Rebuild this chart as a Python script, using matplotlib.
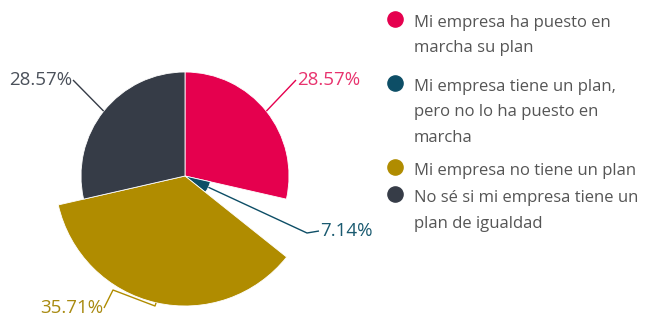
import numpy as np
import matplotlib
matplotlib.use("Agg")
import matplotlib.pyplot as plt

categories = [
    "Mi empresa ha puesto en\nmarcha su plan",
    "Mi empresa tiene un plan,\npero no lo ha puesto en\nmarcha",
    "Mi empresa no tiene un plan",
    "No sé si mi empresa tiene un\nplan de igualdad",
]
values = [28.57, 7.14, 35.71, 28.57]
labels = ["28.57%", "7.14%", "35.71%", "28.57%"]
colors = ["#E5004E", "#0D4E66", "#B08C00", "#363C47"]
text_colors = ["#E8336E", "#1A5A70", "#A88A10", "#4A505A"]

plt.rcParams['font.family'] = ['Open Sans', 'DejaVu Sans']

W, H = 645, 318
fig = plt.figure(figsize=(W / 100, H / 100), dpi=100)
ax = fig.add_axes([0, 0, 1, 1])

cx, cy = 185, H - 176
Rmax = 130
wedges, _ = ax.pie(values, colors=colors, startangle=90, counterclock=False,
                   center=(cx, cy), radius=Rmax,
                   wedgeprops=dict(linewidth=0.6, edgecolor="white"))
vmax = max(values)
radii = []
for w, v in zip(wedges, values):
    r = Rmax * v / vmax
    w.set_radius(r)
    radii.append(r)

ax.set_xlim(0, W)
ax.set_ylim(0, H)
ax.set_aspect('auto')
ax.axis('off')

# label leader lines
label_specs = [
    ((297, H - 80), [], 'left'),
    ((320, H - 231), [(307, H - 233)], 'left'),
    ((103, H - 308), [(155, H - 306), (113, H - 290)], 'right'),
    ((72, H - 80), [], 'right'),
]
for w, r, lab, tc, col, spec in zip(wedges, radii, labels, text_colors, colors, label_specs):
    th = np.deg2rad((w.theta1 + w.theta2) / 2)
    ax_ = cx + r * np.cos(th)
    ay_ = cy + r * np.sin(th)
    (tx, ty), elbows, ha = spec
    xs = [ax_] + [e[0] for e in elbows] + [tx + (-1 if ha == 'left' else 1)]
    ys = [ay_] + [e[1] for e in elbows] + [ty]
    ax.plot(xs, ys, color=col, lw=1.0, solid_capstyle='butt')
    ax.text(tx, ty, lab, color=tc, fontsize=13.5, ha=ha, va='center')

# legend
entry_y = [23, 87, 171, 198]
for cat, col, y0 in zip(categories, colors, entry_y):
    ax.scatter([395], [H - y0 + 4], s=120, color=col, zorder=3, clip_on=False)
    for i, line in enumerate(cat.split("\n")):
        ax.text(414, H - (y0 + 25.5 * i), line, color="#555555", fontsize=12,
                ha='left', va='center', clip_on=False)

fig.savefig("out.png", dpi=100)
